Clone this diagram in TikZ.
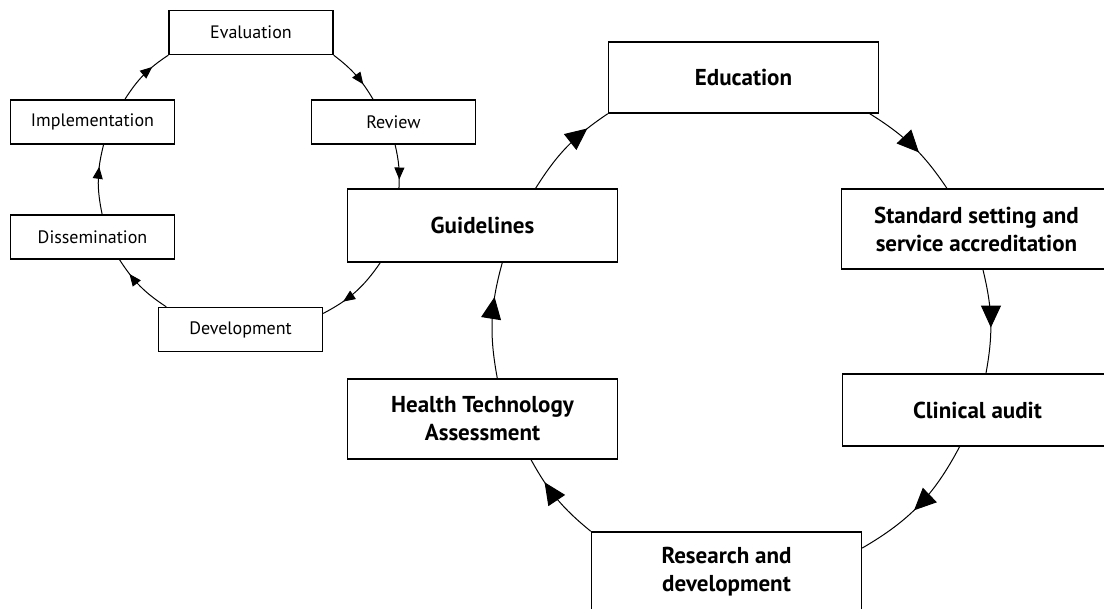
\documentclass[tikz,border=0pt]{standalone}
\usepackage{fontspec}
\setmainfont{PT Sans}
\usetikzlibrary{arrows.meta, decorations.markings}

\begin{document}
\begin{tikzpicture}[x=0.5pt, y=-0.5pt,
    smallbox/.style={draw, line width=0.7pt, minimum width=82pt, minimum height=22pt, inner sep=1pt, font=\fontsize{9}{11}\selectfont},
    bigbox/.style={draw, line width=0.7pt, minimum width=135pt, minimum height=40pt, inner sep=1pt, align=center, font=\bfseries\fontsize{11.5}{14}\selectfont},
    smallflow/.style={line width=0.5pt, postaction={decorate, decoration={markings, mark=at position #1 with {\arrow{Triangle[length=6pt, width=5pt]}}}}},
    smallflow/.default=0.7,
    bigflow/.style={line width=0.5pt, postaction={decorate, decoration={markings, mark=at position #1 with {\arrow{Triangle[length=11pt, width=10pt]}}}}},
    bigflow/.default=0.6]

\useasboundingbox (0, 0) rectangle (1104, 609);

% Shared box, on both cycles.
\node[bigbox, minimum height=36.5pt] (guide) at (482.5, 225.5) {Guidelines};

% Small cycle
\begin{scope}
    % Defining nodes.
    \node[smallbox] (eval) at (251, 32.5) {Evaluation};
    \node[smallbox] (review) at (393.5, 122) {Review};
    \node[smallbox] (devel) at (240.5, 329.5) {Development};
    \node[smallbox] (dissem) at (92.5, 237) {Dissemination};
    \node[smallbox] (implem) at (92.5, 122) {Implementation};
    % Arrows.
    \draw[smallflow] (eval.south east) to[bend left=11] (review.132);
    \draw[smallflow=0.8] (review.-86) to[bend left=8] (guide.156);
    \draw[smallflow] (guide.-160) to[bend left=14] (devel.11);
    \draw[smallflow=0.74] (devel.163) to[bend left=12] (dissem.-40);
    \draw[smallflow=0.68] (dissem.67) to[bend left=13] (implem.-64);
    \draw[smallflow=0.68] (implem.35) to[bend left=12] (eval.south west);
\end{scope}

% Big cycle
\begin{scope}
    % Defining nodes.
    \node[bigbox, minimum height=35.5pt] (educ) at (743.5, 77.5) {Education};
    \node[bigbox] (stand) at (976.5, 229) {Standard setting and\\service accreditation};
    \node[bigbox, minimum height=36pt] (clin) at (977.5, 410) {Clinical audit};
    \node[bigbox] (research) at (726.5, 572) {Research and\\development};
    \node[bigbox] (hta) at (482.5, 419) {Health Technology\\Assessment};
    % Arrows.
    \draw[bigflow=0.76] (guide.35) to[bend left=12] (educ.south west);
    \draw[bigflow=0.58] (educ.-16) to[bend left=12] (stand.126);
    \draw[bigflow=0.56] (stand.-81) to[bend left=12] (clin.77);
    \draw[bigflow=0.55] (clin.-116) to[bend left=16] (research.10);
    \draw[bigflow=0.72] (research.north west) to[bend left=11] (hta.-40);
    \draw[bigflow=0.7] (hta.70) to[bend left=13] (guide.-62);
\end{scope}

\end{tikzpicture}
\end{document}
